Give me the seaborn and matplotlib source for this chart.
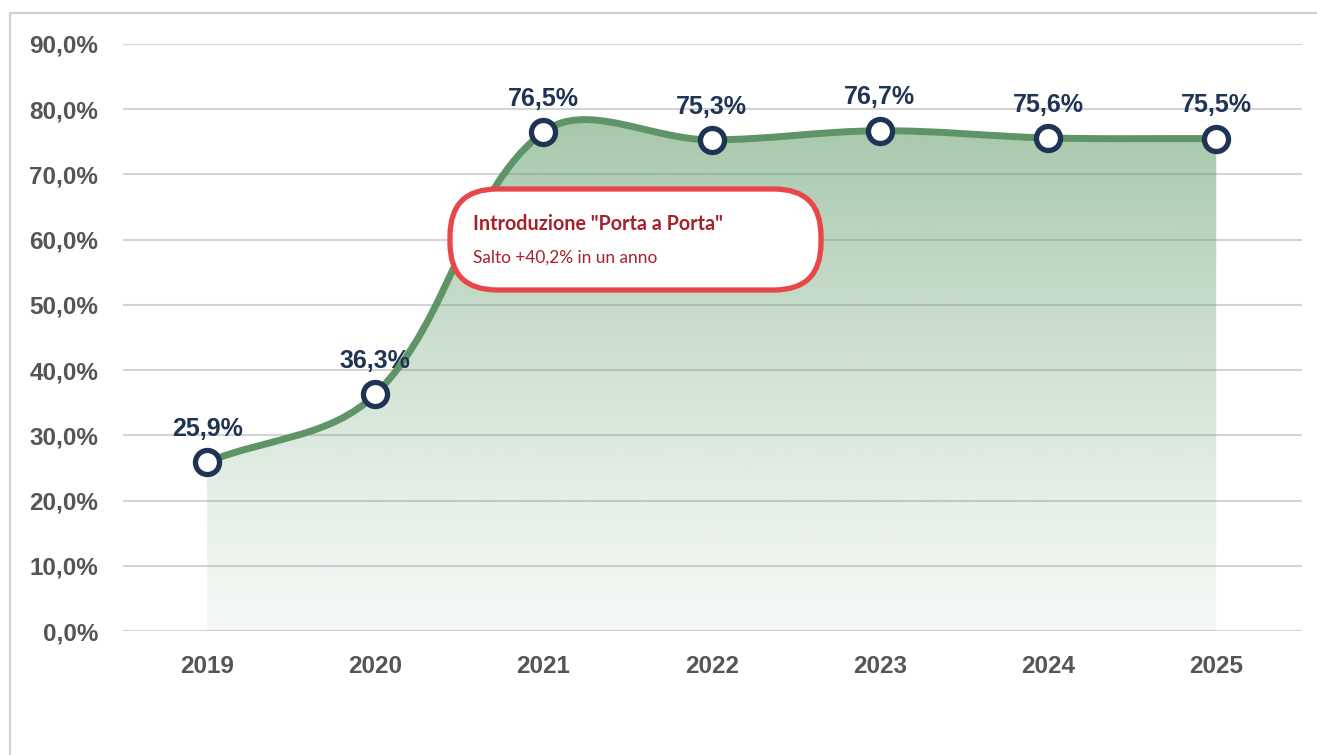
import numpy as np
import matplotlib
matplotlib.use("Agg")
import matplotlib.pyplot as plt
import seaborn as sns
import pandas as pd
from matplotlib.path import Path
from matplotlib.patches import PathPatch, FancyBboxPatch, Rectangle
from matplotlib.transforms import IdentityTransform

# data
years = ["2019", "2020", "2021", "2022", "2023", "2024", "2025"]
rate = [25.9, 36.3, 76.5, 75.3, 76.7, 75.6, 75.5]
y_ticks = [0, 10, 20, 30, 40, 50, 60, 70, 80, 90]
note_title = 'Introduzione "Porta a Porta"'
note_text = "Salto +40,2% in un anno"

df = pd.DataFrame({"year": years, "rate": rate})
df["pos"] = range(len(df))

sns.set_theme(style="white")
plt.rcParams["font.family"] = ["Liberation Sans", "DejaVu Sans"]

W, H = 1317, 755
fig = plt.figure(figsize=(W / 100, H / 100), dpi=100)
fig.patch.set_facecolor("white")
ax = fig.add_axes([123 / W, (H - 631) / H, (1302 - 123) / W, (631 - 44) / H])
ax.set_xlim(-0.5, 6.51)
ax.set_ylim(0, 90)

line_col = "#5e9466"
navy = "#1f3354"

# smooth curve, tension spline computed in screen space
xs = df["pos"].to_numpy(float)
ys = df["rate"].to_numpy(float)
px = ax.transData.transform(np.column_stack([xs, ys]))
tension = 0.36
n = len(px)
c_prev, c_next = [], []
for i in range(n):
    cur = px[i]
    prv = px[i - 1] if i > 0 else cur
    nxt = px[i + 1] if i < n - 1 else cur
    d01 = np.hypot(*(cur - prv))
    d12 = np.hypot(*(nxt - cur))
    tot = d01 + d12
    s01 = d01 / tot if tot else 0
    s12 = d12 / tot if tot else 0
    c_prev.append(cur - tension * s01 * (nxt - prv))
    c_next.append(cur + tension * s12 * (nxt - prv))
inv = ax.transData.inverted()
verts = [tuple(inv.transform(px[0]))]
codes = [Path.MOVETO]
for i in range(n - 1):
    verts += [tuple(inv.transform(c_next[i])), tuple(inv.transform(c_prev[i + 1])),
              tuple(inv.transform(px[i + 1]))]
    codes += [Path.CURVE4] * 3
curve = Path(verts, codes)

# area under curve, closed to 0
fill_verts = verts + [(xs[-1], 0), (xs[0], 0), verts[0]]
fill_codes = codes + [Path.LINETO, Path.LINETO, Path.CLOSEPOLY]
fill_patch = PathPatch(Path(fill_verts, fill_codes), facecolor="none", edgecolor="none")
ax.add_patch(fill_patch)

# vertical gradient clipped to the area
grad = np.linspace(0, 1, 256).reshape(-1, 1)
rgba = np.zeros((256, 1, 4))
base = matplotlib.colors.to_rgb("#5e9a68")
rgba[..., 0], rgba[..., 1], rgba[..., 2] = base
rgba[..., 3] = 0.06 + 0.5 * grad[:, 0:1] ** 1.15
img = ax.imshow(rgba, extent=[xs[0], xs[-1], 0, 80], origin="lower",
                aspect="auto", zorder=1)
img.set_clip_path(fill_patch)

ax.add_patch(PathPatch(curve, facecolor="none", edgecolor=line_col,
                       lw=5, capstyle="round", zorder=3))

sns.scatterplot(data=df, x="pos", y="rate", ax=ax, s=300, marker="o",
                color="white", edgecolor=navy, linewidth=3.8, zorder=4,
                clip_on=False, legend=False)

for x, y in zip(xs, ys):
    ax.annotate(f"{y:.1f}%".replace(".", ","), (x, y), xytext=(0, 24),
                textcoords="offset points", ha="center", va="center",
                fontsize=18, fontweight="bold", color=navy, zorder=5)

ax.set_yticks(y_ticks)
ax.set_yticklabels([f"{t:.1f}%".replace(".", ",") for t in y_ticks])
ax.set_xticks(df["pos"])
ax.set_xticklabels(years)
ax.grid(axis="y", color="#d4d4d4", lw=1.5, zorder=0)
ax.set_axisbelow(True)
for s in ax.spines.values():
    s.set_visible(False)
ax.tick_params(axis="y", length=0, pad=18, labelsize=17.5, labelcolor="#555555")
ax.tick_params(axis="x", length=0, pad=17, labelsize=17.5, labelcolor="#555555")
for lab in ax.get_xticklabels() + ax.get_yticklabels():
    lab.set_fontweight("bold")
ax.set_xlabel("")
ax.set_ylabel("")
ax.set_facecolor("none")

# outer thin frame (left and top)
fig.add_artist(Rectangle((10, -20), W + 40, H - 13 + 20, transform=IdentityTransform(),
                         facecolor="none", edgecolor="#d0d0d0", lw=1.6))

# annotation box
box = FancyBboxPatch((450, H - 290), 371, 101,
                     boxstyle="round,pad=0,rounding_size=47",
                     transform=IdentityTransform(), facecolor="white",
                     edgecolor="#e8474a", lw=3.8, zorder=10)
fig.add_artist(box)
fig.text(473 / W, (H - 224) / H, note_title, fontsize=14.2, fontweight="bold",
         color="#a8202a", family=["Lato", "DejaVu Sans"], va="center", ha="left", zorder=11)
fig.text(473 / W, (H - 258) / H, note_text, fontsize=12.4,
         color="#a8202a", family=["Lato", "DejaVu Sans"], va="center", ha="left", zorder=11)

fig.savefig("out.png", dpi=100)
